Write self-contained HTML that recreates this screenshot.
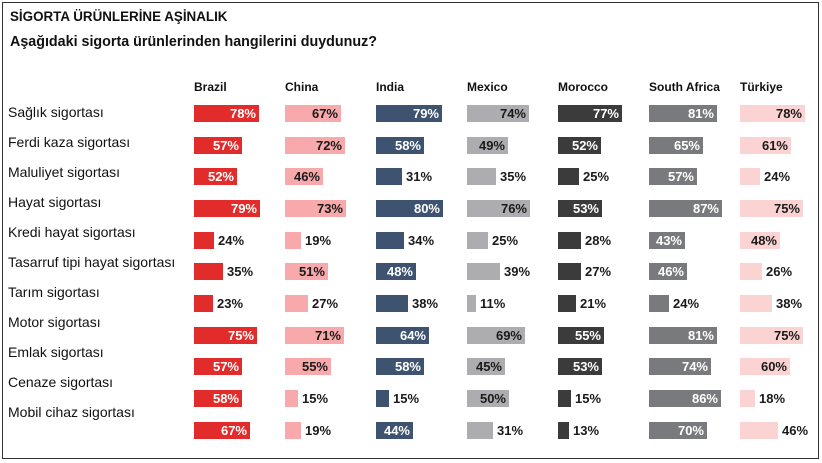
<!DOCTYPE html>
<html><head><meta charset="utf-8"><style>
body{margin:0;width:822px;height:463px;background:#fff;position:relative;overflow:hidden;font-family:"Liberation Sans",sans-serif}
.fr{position:absolute;left:2px;top:2px;width:815px;height:455px;border:1.5px solid #333}
.t{position:absolute;left:10px;font-weight:bold;color:#111;white-space:nowrap}
.h{position:absolute;top:80px;font-size:12px;font-weight:bold;color:#111}
.l{position:absolute;left:8px;font-size:14px;color:#111;white-space:nowrap}
.b{position:absolute;height:17px;font-size:13px;font-weight:bold;line-height:17px;text-align:right;box-sizing:border-box;padding-right:3px;white-space:nowrap}
.b span{position:absolute;left:calc(100% + 4px);color:#1a1a1a}
.c1{background:#e22b2b;color:#fff}.c2{background:#f7a9ab;color:#1a1a1a}.c3{background:#3e536f;color:#fff}
.c4{background:#adadb1;color:#1a1a1a}.c5{background:#3b3b3b;color:#fff}.c6{background:#797a7e;color:#fff}.c7{background:#fcd3d3;color:#1a1a1a}
</style></head><body>
<div class="fr"></div>
<div class="t" style="top:9px;font-size:13.4px">SİGORTA ÜRÜNLERİNE AŞİNALIK</div>
<div class="t" style="top:34px;font-size:14.3px">Aşağıdaki sigorta ürünlerinden hangilerini duydunuz?</div>
<div class="h" style="left:194px">Brazil</div><div class="h" style="left:285px">China</div><div class="h" style="left:376px">India</div><div class="h" style="left:467px">Mexico</div><div class="h" style="left:558px">Morocco</div><div class="h" style="left:649px">South Africa</div><div class="h" style="left:740px">Türkiye</div>
<div class="l" style="top:104px">Sağlık sigortası</div>
<div class="l" style="top:134px">Ferdi kaza sigortası</div>
<div class="l" style="top:164px">Maluliyet sigortası</div>
<div class="l" style="top:194px">Hayat sigortası</div>
<div class="l" style="top:224px">Kredi hayat sigortası</div>
<div class="l" style="top:254px">Tasarruf tipi hayat sigortası</div>
<div class="l" style="top:284px">Tarım sigortası</div>
<div class="l" style="top:314px">Motor sigortası</div>
<div class="l" style="top:344px">Emlak sigortası</div>
<div class="l" style="top:374px">Cenaze sigortası</div>
<div class="l" style="top:404px">Mobil cihaz sigortası</div>

<div class="b c1" style="left:194px;top:105px;width:65px">78%</div>
<div class="b c1" style="left:194px;top:137px;width:48px">57%</div>
<div class="b c1" style="left:194px;top:168px;width:43px">52%</div>
<div class="b c1" style="left:194px;top:200px;width:66px">79%</div>
<div class="b c1" style="left:194px;top:232px;width:20px"><span>24%</span></div>
<div class="b c1" style="left:194px;top:263px;width:29px"><span>35%</span></div>
<div class="b c1" style="left:194px;top:295px;width:19px"><span>23%</span></div>
<div class="b c1" style="left:194px;top:327px;width:63px">75%</div>
<div class="b c1" style="left:194px;top:358px;width:48px">57%</div>
<div class="b c1" style="left:194px;top:390px;width:48px">58%</div>
<div class="b c1" style="left:194px;top:422px;width:56px">67%</div>

<div class="b c2" style="left:285px;top:105px;width:56px">67%</div>
<div class="b c2" style="left:285px;top:137px;width:60px">72%</div>
<div class="b c2" style="left:285px;top:168px;width:38px">46%</div>
<div class="b c2" style="left:285px;top:200px;width:61px">73%</div>
<div class="b c2" style="left:285px;top:232px;width:16px"><span>19%</span></div>
<div class="b c2" style="left:285px;top:263px;width:43px">51%</div>
<div class="b c2" style="left:285px;top:295px;width:23px"><span>27%</span></div>
<div class="b c2" style="left:285px;top:327px;width:59px">71%</div>
<div class="b c2" style="left:285px;top:358px;width:46px">55%</div>
<div class="b c2" style="left:285px;top:390px;width:13px"><span>15%</span></div>
<div class="b c2" style="left:285px;top:422px;width:16px"><span>19%</span></div>

<div class="b c3" style="left:376px;top:105px;width:66px">79%</div>
<div class="b c3" style="left:376px;top:137px;width:48px">58%</div>
<div class="b c3" style="left:376px;top:168px;width:26px"><span>31%</span></div>
<div class="b c3" style="left:376px;top:200px;width:67px">80%</div>
<div class="b c3" style="left:376px;top:232px;width:28px"><span>34%</span></div>
<div class="b c3" style="left:376px;top:263px;width:40px">48%</div>
<div class="b c3" style="left:376px;top:295px;width:32px"><span>38%</span></div>
<div class="b c3" style="left:376px;top:327px;width:53px">64%</div>
<div class="b c3" style="left:376px;top:358px;width:48px">58%</div>
<div class="b c3" style="left:376px;top:390px;width:13px"><span>15%</span></div>
<div class="b c3" style="left:376px;top:422px;width:37px">44%</div>

<div class="b c4" style="left:467px;top:105px;width:62px">74%</div>
<div class="b c4" style="left:467px;top:137px;width:41px">49%</div>
<div class="b c4" style="left:467px;top:168px;width:29px"><span>35%</span></div>
<div class="b c4" style="left:467px;top:200px;width:63px">76%</div>
<div class="b c4" style="left:467px;top:232px;width:21px"><span>25%</span></div>
<div class="b c4" style="left:467px;top:263px;width:33px"><span>39%</span></div>
<div class="b c4" style="left:467px;top:295px;width:9px"><span>11%</span></div>
<div class="b c4" style="left:467px;top:327px;width:58px">69%</div>
<div class="b c4" style="left:467px;top:358px;width:38px">45%</div>
<div class="b c4" style="left:467px;top:390px;width:42px">50%</div>
<div class="b c4" style="left:467px;top:422px;width:26px"><span>31%</span></div>

<div class="b c5" style="left:558px;top:105px;width:64px">77%</div>
<div class="b c5" style="left:558px;top:137px;width:43px">52%</div>
<div class="b c5" style="left:558px;top:168px;width:21px"><span>25%</span></div>
<div class="b c5" style="left:558px;top:200px;width:44px">53%</div>
<div class="b c5" style="left:558px;top:232px;width:23px"><span>28%</span></div>
<div class="b c5" style="left:558px;top:263px;width:23px"><span>27%</span></div>
<div class="b c5" style="left:558px;top:295px;width:18px"><span>21%</span></div>
<div class="b c5" style="left:558px;top:327px;width:46px">55%</div>
<div class="b c5" style="left:558px;top:358px;width:44px">53%</div>
<div class="b c5" style="left:558px;top:390px;width:13px"><span>15%</span></div>
<div class="b c5" style="left:558px;top:422px;width:11px"><span>13%</span></div>

<div class="b c6" style="left:649px;top:105px;width:68px">81%</div>
<div class="b c6" style="left:649px;top:137px;width:54px">65%</div>
<div class="b c6" style="left:649px;top:168px;width:48px">57%</div>
<div class="b c6" style="left:649px;top:200px;width:73px">87%</div>
<div class="b c6" style="left:649px;top:232px;width:36px">43%</div>
<div class="b c6" style="left:649px;top:263px;width:38px">46%</div>
<div class="b c6" style="left:649px;top:295px;width:20px"><span>24%</span></div>
<div class="b c6" style="left:649px;top:327px;width:68px">81%</div>
<div class="b c6" style="left:649px;top:358px;width:62px">74%</div>
<div class="b c6" style="left:649px;top:390px;width:72px">86%</div>
<div class="b c6" style="left:649px;top:422px;width:58px">70%</div>

<div class="b c7" style="left:740px;top:105px;width:65px">78%</div>
<div class="b c7" style="left:740px;top:137px;width:51px">61%</div>
<div class="b c7" style="left:740px;top:168px;width:20px"><span>24%</span></div>
<div class="b c7" style="left:740px;top:200px;width:63px">75%</div>
<div class="b c7" style="left:740px;top:232px;width:40px">48%</div>
<div class="b c7" style="left:740px;top:263px;width:22px"><span>26%</span></div>
<div class="b c7" style="left:740px;top:295px;width:32px"><span>38%</span></div>
<div class="b c7" style="left:740px;top:327px;width:63px">75%</div>
<div class="b c7" style="left:740px;top:358px;width:50px">60%</div>
<div class="b c7" style="left:740px;top:390px;width:15px"><span>18%</span></div>
<div class="b c7" style="left:740px;top:422px;width:38px"><span>46%</span></div>
</body></html>
